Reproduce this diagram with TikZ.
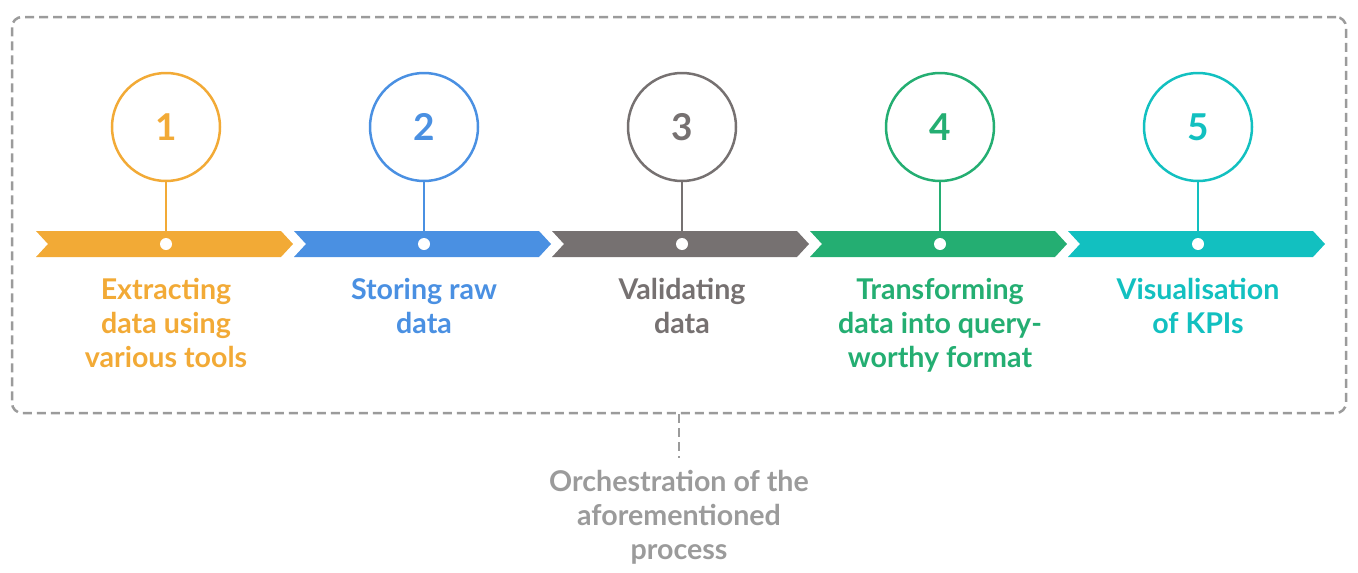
\documentclass[tikz,border=0pt]{standalone}
\usepackage{fontspec}
\setmainfont{Lato}
\definecolor{corange}{HTML}{F2AA36}
\definecolor{cblue}{HTML}{4A90E2}
\definecolor{cgray}{HTML}{767171}
\definecolor{cgreen}{HTML}{24AE72}
\definecolor{cteal}{HTML}{12C0C0}
\definecolor{cdash}{HTML}{9B9B9B}
\begin{document}
\begin{tikzpicture}[x=1pt,y=-1pt,
  numcirc/.style={circle, line width=2.5pt, minimum size=108pt, inner sep=0pt, font=\fontsize{37}{40}\selectfont\bfseries},
  stem/.style={line width=2.5pt},
  dot/.style={circle, fill=white, minimum size=12pt, inner sep=0pt},
  steptext/.style={align=center, inner sep=0pt, font=\fontsize{28.6}{34}\selectfont\bfseries},
  framebox/.style={draw=cdash, line width=2.5pt, dash pattern=on 9pt off 5pt, rounded corners=10pt, minimum width=1334pt, minimum height=396pt, inner sep=0pt}]
\useasboundingbox (0,0) rectangle (1358,573);
\node[framebox] (box) at (679,215) {};
\foreach \i/\col/\txt in {0/corange/{Extracting\\data using\\various tools}, 1/cblue/{Storing raw\\data}, 2/cgray/{Validating\\data}, 3/cgreen/{Transforming\\data into query-\\worthy format}, 4/cteal/{Visualisation\\of KPIs}} {
  \pgfmathsetmacro\cx{166+258*\i}
  \pgfmathsetmacro\xo{36+258*\i}
  \pgfmathtruncatemacro\n{\i+1}
  \node[numcirc, draw=\col, text=\col] (c\n) at (\cx,127) {\n};
  \coordinate (d\n) at (\cx,244);
  \draw[stem, \col] (c\n) -- (d\n);
  \fill[\col] (\xo,231) -- (\xo+245,231) -- (\xo+257,244) -- (\xo+245,257) -- (\xo,257) -- (\xo+12,244) -- cycle;
  \node[dot] (p\n) at (d\n) {};
  \node[steptext, text=\col, anchor=north] (t\n) at (\cx,278) {\txt};
}
\node[steptext, text=cdash, anchor=north] (orch) at (679,470) {Orchestration of the\\aforementioned\\process};
\draw[draw=cdash, line width=2.5pt, dash pattern=on 9pt off 5pt] (box.south) -- (679,458);
\end{tikzpicture}
\end{document}
